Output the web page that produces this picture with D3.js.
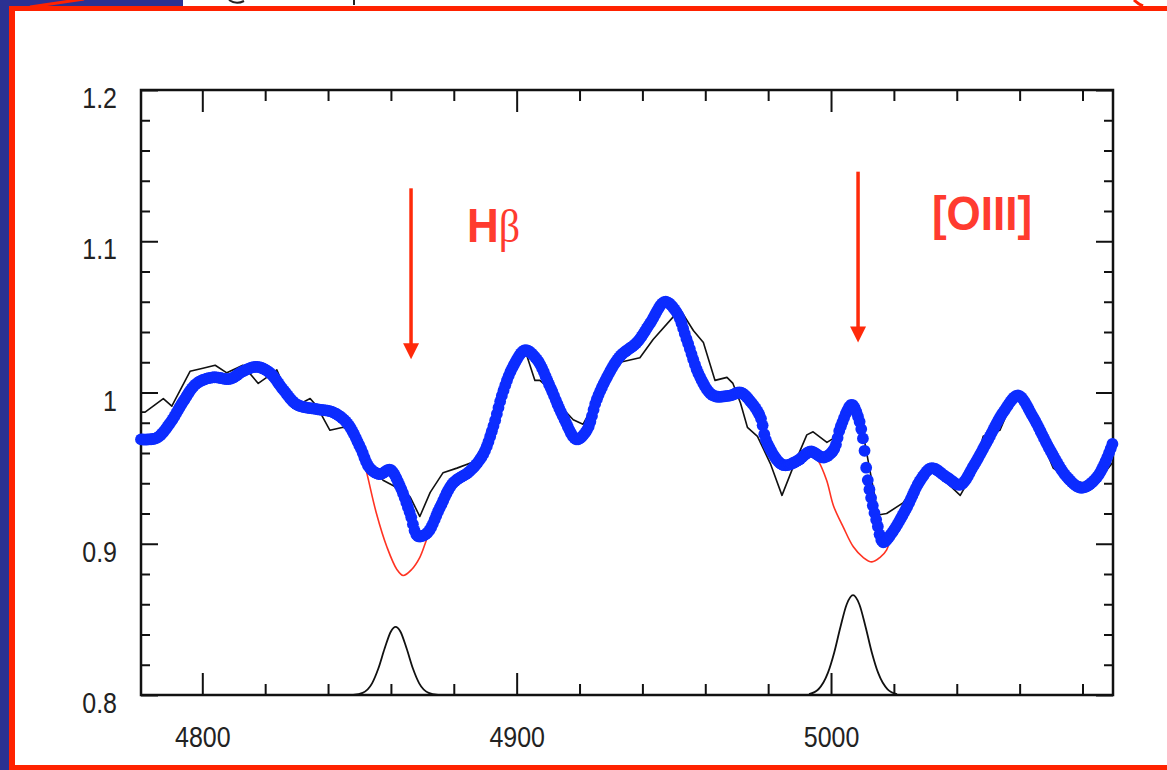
<!DOCTYPE html>
<html>
<head>
<meta charset="utf-8">
<style>
body { margin: 0; background: #fff; }
svg { display: block; }
</style>
</head>
<body>
<svg width="1167" height="770"></svg>
<script src="https://d3js.org/d3.v7.min.js"></script>
<script>

// spectrum: [wavelength, normalised flux]
var blueSpec = [[4780.5,0.969],[4785.5,0.970],[4789.8,0.980],[4793.9,0.994],[4798.2,1.006],[4803.4,1.010],
  [4808.8,1.009],[4812.9,1.014],[4817.3,1.017],[4821.5,1.013],[4825.7,1.002],[4830.1,0.992],[4836.4,0.989],
  [4841.5,0.987],[4846.0,0.980],[4850.2,0.964],[4853.3,0.950],[4856.5,0.946],[4859.7,0.949],[4862.9,0.938],
  [4866.1,0.920],[4868.6,0.905],[4871.5,0.907],[4875.6,0.924],[4879.7,0.940],[4885.1,0.948],[4889.3,0.959],
  [4892.5,0.977],[4895.6,1.000],[4898.8,1.017],[4902.7,1.028],[4906.4,1.022],[4910.6,1.004],[4914.8,0.984],
  [4919.1,0.969],[4922.3,0.975],[4925.4,0.995],[4928.7,1.010],[4932.9,1.024],[4938.2,1.033],[4942.5,1.046],
  [4947.2,1.060],[4950.9,1.053],[4954.1,1.035],[4958.4,1.010],[4962.5,0.998],[4967.9,0.998],[4971.2,1.000],
  [4974.8,0.993],[4977.5,0.984],[4979.6,0.967],[4984.8,0.952],[4989.4,0.955],[4993.5,0.961],[4997.6,0.957],
  [5000.8,0.962],[5003.0,0.977],[5006.6,0.992],[5008.6,0.984],[5010.2,0.969],[5011.7,0.942],[5014.6,0.914],
  [5016.6,0.901],[5019.3,0.907],[5024.1,0.924],[5028.4,0.942],[5032.0,0.950],[5036.8,0.944],[5041.1,0.939],
  [5045.2,0.951],[5049.5,0.967],[5054.8,0.987],[5059.5,0.998],[5064.2,0.984],[5069.7,0.962],[5075.1,0.944],
  [5079.7,0.937],[5084.6,0.944],[5089.7,0.967]];

var blackSpec = [[4780.5,0.987],[4781.8,0.987],[4787.6,0.996],[4790.3,0.991],[4796.1,1.014],[4800.2,1.016],
  [4804.1,1.018],[4807.8,1.013],[4812.9,1.018],[4817.8,1.006],[4820.5,1.010],[4823.7,1.015],[4828.8,0.990],
  [4834.3,0.996],[4836.4,0.991],[4840.6,0.975],[4844.8,0.977],[4849.1,0.973],[4853.3,0.952],[4857.5,0.942],
  [4862.9,0.936],[4866.1,0.931],[4869.2,0.918],[4872.5,0.934],[4876.6,0.947],[4881.0,0.950],[4886.2,0.954],
  [4889.3,0.965],[4892.5,0.982],[4895.6,1.002],[4901.1,1.026],[4903.3,1.024],[4905.8,1.008],[4907.4,1.008],
  [4910.6,1.002],[4914.8,0.989],[4918.0,0.982],[4921.1,0.979],[4924.3,0.991],[4928.7,1.013],[4932.9,1.020],
  [4939.2,1.023],[4943.4,1.035],[4949.8,1.050],[4952.0,1.055],[4956.2,1.041],[4959.4,1.033],[4963.1,1.008],
  [4966.9,1.010],[4968.8,1.006],[4971.2,0.993],[4973.4,0.977],[4976.6,0.971],[4980.7,0.953],[4984.4,0.932],
  [4988.0,0.951],[4992.3,0.972],[4994.3,0.974],[4998.7,0.967],[5001.8,0.971],[5006.6,0.989],[5010.2,0.973],
  [5015.0,0.919],[5017.7,0.920],[5022.9,0.927],[5027.3,0.940],[5032.0,0.950],[5041.1,0.932],[5045.2,0.947],
  [5048.4,0.971],[5053.7,0.975],[5057.0,0.991],[5060.1,0.997],[5066.5,0.971],[5070.7,0.950],[5076.1,0.942],
  [5083.4,0.939],[5087.8,0.949],[5089.7,0.954]];

// model without emission, where it leaves the fit
var redHb = [[4850.2,0.964],[4852.3,0.947],[4855.4,0.920],[4858.7,0.898],[4861.9,0.883],[4863.9,0.879],
  [4866.6,0.883],[4869.2,0.891],[4871.4,0.903],[4874.1,0.917],[4875.6,0.924]];
var redOIII = [[4993.5,0.961],[4995.9,0.955],[4998.6,0.942],[5000.8,0.925],[5003.9,0.911],[5007.1,0.898],
  [5010.2,0.891],[5013.0,0.888],[5015.6,0.891],[5017.7,0.896],[5019.3,0.907]];

// emission line profiles at the bottom
var hbLine = [[4848,0.800],[4851,0.8014],[4854,0.8077],[4856,0.8175],[4858,0.8307],[4860,0.842],[4861.5,0.845],
  [4863,0.842],[4865,0.8307],[4867,0.8175],[4869,0.8077],[4872,0.8014],[4875,0.800]];
var oLine = [[4993,0.8006],[4996,0.8038],[4999,0.8146],[5001,0.828],[5003,0.845],[5005,0.860],[5007,0.866],
  [5009,0.860],[5011,0.845],[5013,0.828],[5015,0.8146],[5018,0.8038],[5021,0.8006]];

var xMajor = [4800, 4900, 5000];
var xLabels = ["4800", "4900", "5000"];
var xMinor = [4820, 4840, 4860, 4880, 4920, 4940, 4960, 4980, 5020, 5040, 5060, 5080];
var yMajor = [0.8, 0.9, 1.0, 1.1, 1.2];
var yLabels = ["0.8", "0.9", "1", "1.1", "1.2"];
var yMinor = [0.82,0.84,0.86,0.88,0.92,0.94,0.96,0.98,1.02,1.04,1.06,1.08,1.12,1.14,1.16,1.18];

var notes = [
  {label: "H", greek: "\u03b2", wave: 4866.4, top: 1.135, tip: 1.022, textWave: 4884.2, textFlux: 1.0995},
  {label: "[OIII]", greek: "", wave: 5008.6, top: 1.146, tip: 1.033, textWave: 5032.1, textFlux: 1.1074}
];

var svg = d3.select("svg");
var x = d3.scaleLinear().domain([4780.5, 5089.7]).range([141, 1113]);
var y = d3.scaleLinear().domain([0.8, 1.2]).range([695, 90]);

// slide frame bits
svg.append("rect").attr("width", 1167).attr("height", 770).attr("fill", "#fff");
svg.append("rect").attr("x", 0).attr("y", 0).attr("width", 10).attr("height", 770).attr("fill", "#2b3192");
svg.append("rect").attr("x", 0).attr("y", 0).attr("width", 183).attr("height", 8).attr("fill", "#2b3192");
svg.append("line").attr("x1", 30).attr("y1", 7).attr("x2", 84).attr("y2", -1)
   .attr("stroke", "#ff2200").attr("stroke-width", 3);
svg.append("path").attr("d", "M229,0 Q236,5 244,1").attr("fill", "none").attr("stroke", "#222").attr("stroke-width", 2);
svg.append("line").attr("x1", 354).attr("y1", 0).attr("x2", 354).attr("y2", 5).attr("stroke", "#222").attr("stroke-width", 2);
svg.append("path").attr("d", "M1134,0 Q1138,4 1143,6").attr("fill", "none").attr("stroke", "#ff2200").attr("stroke-width", 3);
svg.append("rect").attr("x", 9).attr("y", 6).attr("width", 1158).attr("height", 5).attr("fill", "#ff2200");
svg.append("rect").attr("x", 9).attr("y", 6).attr("width", 6).attr("height", 764).attr("fill", "#ff2200");
svg.append("rect").attr("x", 9).attr("y", 765).attr("width", 1158).attr("height", 5).attr("fill", "#ff2200");

// axes, ticks point inward on all four sides
function axis(gen, vals, size, pos, labels) {
  var g = svg.append("g").attr("transform", pos).attr("color", "#111")
    .call(gen.tickValues(vals).tickSize(size).tickFormat(labels ? function(d, i) { return labels[i]; } : ""));
  g.select(".domain").remove();
  g.selectAll(".tick line").attr("stroke-width", 2);
  return g;
}

var fontFam = "'Liberation Sans', Arial, Helvetica, sans-serif";

var xb = axis(d3.axisBottom(x), xMajor, -22, "translate(0,695)", xLabels);
xb.selectAll("text").attr("y", null).attr("dy", null)
  .attr("transform", "translate(0,52) scale(1,1.17)")
  .attr("font-size", 25).attr("font-family", fontFam).attr("fill", "#222");
axis(d3.axisBottom(x), xMinor, -11, "translate(0,695)");
axis(d3.axisTop(x), xMajor, -22, "translate(0,90)");
axis(d3.axisTop(x), xMinor, -11, "translate(0,90)");

var yl = axis(d3.axisLeft(y), yMajor, -17, "translate(141,0)", yLabels);
yl.selectAll("text").attr("x", null).attr("dy", null)
  .attr("transform", "translate(-24,17.5) scale(1,1.17)")
  .attr("font-size", 25).attr("font-family", fontFam).attr("fill", "#222");
axis(d3.axisLeft(y), yMinor, -9, "translate(141,0)");
axis(d3.axisRight(y), yMajor, -17, "translate(1113,0)");
axis(d3.axisRight(y), yMinor, -9, "translate(1113,0)");

svg.append("rect").attr("x", 141).attr("y", 90).attr("width", 972).attr("height", 605)
   .attr("fill", "none").attr("stroke", "#111").attr("stroke-width", 2.5);

// curves
var straight = d3.line().x(function(d) { return x(d[0]); }).y(function(d) { return y(d[1]); });
var smooth = d3.line().x(function(d) { return x(d[0]); }).y(function(d) { return y(d[1]); })
  .curve(d3.curveCatmullRom.alpha(0.5));
var bump = d3.line().x(function(d) { return x(d[0]); }).y(function(d) { return y(d[1]); })
  .curve(d3.curveMonotoneX);

[hbLine, oLine].forEach(function(s) {
  svg.append("path").attr("d", bump(s)).attr("fill", "none").attr("stroke", "#111").attr("stroke-width", 1.8);
});

svg.append("path").attr("d", straight(blackSpec)).attr("fill", "none")
   .attr("stroke", "#111").attr("stroke-width", 1.6).attr("stroke-linejoin", "round");

[redHb, redOIII].forEach(function(s) {
  svg.append("path").attr("d", smooth(s)).attr("fill", "none").attr("stroke", "#ff3322").attr("stroke-width", 1.6);
});

// the fit is plotted as heavy dots at even wavelength steps
var guide = svg.append("path").attr("d", smooth(blueSpec)).attr("fill", "none").attr("stroke", "none");
var node = guide.node(), len = node.getTotalLength(), dots = [], lastX = -1e9;
for (var s = 0; s <= len; s += 0.5) {
  var p = node.getPointAtLength(s);
  if (p.x - lastX >= 1.6) { dots.push(p); lastX = p.x; }
}
svg.append("g").selectAll("circle").data(dots).join("circle")
   .attr("cx", function(d) { return d.x; }).attr("cy", function(d) { return d.y; })
   .attr("r", 5.9).attr("fill", "#0c2cff");

// line markers
notes.forEach(function(n) {
  var ax = x(n.wave), y0 = y(n.top), y1 = y(n.tip);
  svg.append("line").attr("x1", ax).attr("y1", y0).attr("x2", ax).attr("y2", y1 - 14)
     .attr("stroke", "#ff2a0a").attr("stroke-width", 3.5);
  svg.append("path").attr("d", "M" + (ax - 8) + "," + (y1 - 16) + "L" + (ax + 8) + "," + (y1 - 16) + "L" + ax + "," + y1 + "Z")
     .attr("fill", "#ff2a0a");
  var t = svg.append("text")
     .attr("transform", "translate(" + x(n.textWave) + "," + y(n.textFlux) + ") scale(1,1.1)")
     .attr("font-family", fontFam).attr("font-weight", "bold").attr("font-size", 44)
     .attr("fill", "#ff3b2f");
  t.append("tspan").text(n.label);
  if (n.greek) {
    t.append("tspan").text(n.greek).attr("font-family", "'Liberation Serif', 'DejaVu Serif', serif")
     .attr("font-weight", "normal").attr("font-size", 42);
  }
});

</script>
</body>
</html>
